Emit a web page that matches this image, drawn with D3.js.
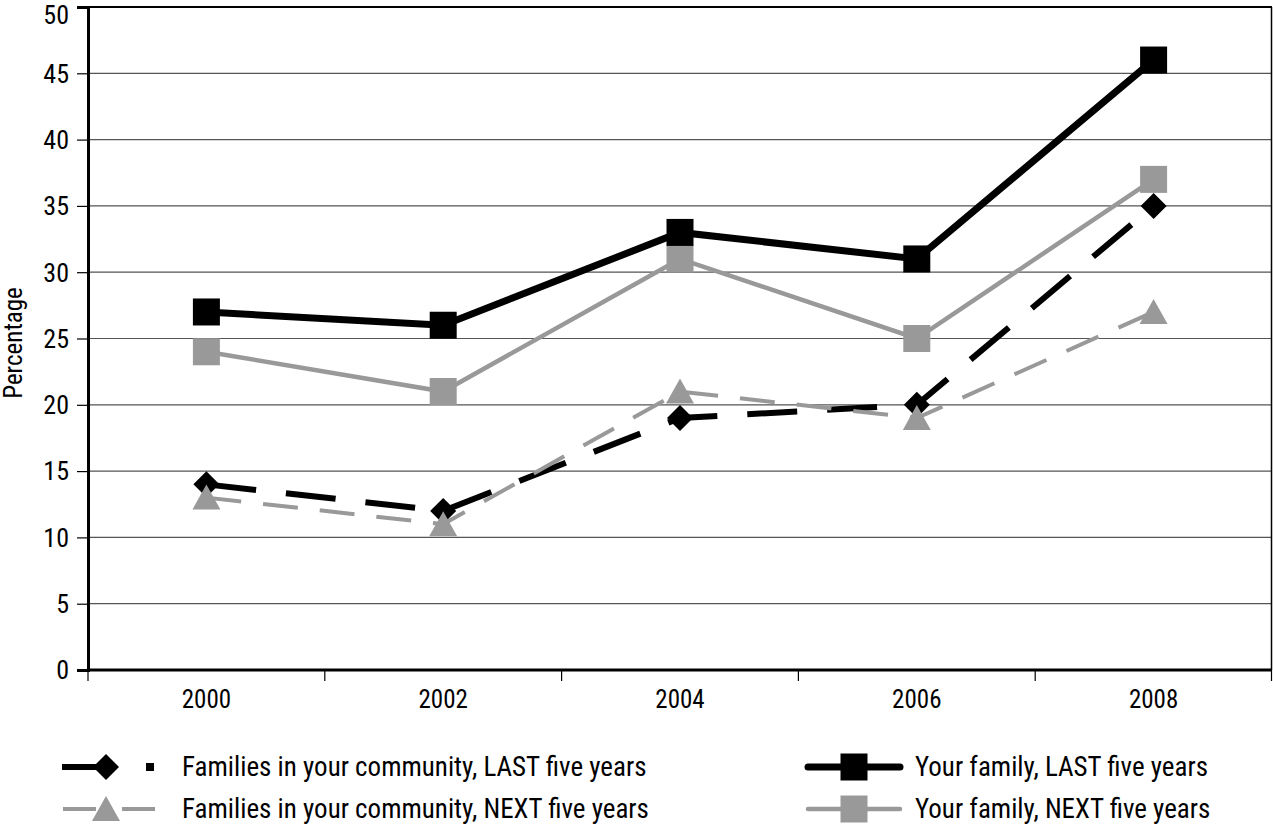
<!DOCTYPE html>
<html><head><meta charset="utf-8">
<script src="https://cdn.jsdelivr.net/npm/d3@7"></script>
<style>
body{margin:0;background:#fff;}
svg text{font-family:"Liberation Sans Narrow","Roboto Condensed","Liberation Sans",sans-serif;fill:#000;}
</style></head><body>
<svg id="c" width="1273" height="829"></svg>
<script>
const years = ["2000","2002","2004","2006","2008"];
const communityLast = [14,12,19,20,35];
const communityNext = [13,11,21,19,27];
const familyLast = [27,26,33,31,46];
const familyNext = [24,21,31,25,37];
const yTicks = [0,5,10,15,20,25,30,35,40,45,50];
const seriesNames = ["Families in your community, LAST five years","Families in your community, NEXT five years","Your family, LAST five years","Your family, NEXT five years"];

const svg = d3.select("#c");
const m = {l:88, r:1272, t:7, b:670};
const x = d3.scaleBand().domain(years).range([m.l,m.r]);
const y = d3.scaleLinear().domain([0,50]).range([m.b,m.t]);

// gridlines
svg.append("g").selectAll("line").data(yTicks.filter(d=>d>0)).join("line")
  .attr("x1",m.l).attr("x2",m.r).attr("y1",d=>y(d)).attr("y2",d=>y(d))
  .attr("stroke",d=>d===50?"#000":"#555").attr("stroke-width",d=>d===50?2:1.2);
// right border
svg.append("line").attr("x1",m.r-0.5).attr("x2",m.r-0.5).attr("y1",m.t).attr("y2",m.b).attr("stroke","#000").attr("stroke-width",1.5);

// y axis
const ya = svg.append("g").attr("transform",`translate(${m.l},0)`)
  .call(d3.axisLeft(y).tickValues(yTicks).tickSize(11).tickPadding(8));
ya.select(".domain").attr("stroke","#000").attr("stroke-width",3);
ya.selectAll(".tick line").attr("stroke","#000").attr("stroke-width",1.2);
ya.selectAll("text").style("font-size","26px").attr("dy",d=>d===50?"0.62em":"0.34em");

// x axis
const xa = svg.append("g").attr("transform",`translate(0,${m.b})`)
  .call(d3.axisBottom(x).tickSize(0).tickPadding(20));
xa.select(".domain").attr("stroke","#000").attr("stroke-width",3).attr("d",`M${m.l},0H${m.r}`);
xa.selectAll("text").style("font-size","25px");
const bounds = years.map(d=>x(d)).concat([m.r-0.5]);
xa.append("g").selectAll("line").data(bounds).join("line")
  .attr("x1",d=>d).attr("x2",d=>d).attr("y1",0).attr("y2",11).attr("stroke","#000").attr("stroke-width",1.2);

// y title
svg.append("text").attr("transform",`translate(22,343) rotate(-90)`).attr("text-anchor","middle")
  .style("font-size","25px").text("Percentage");

const cx = d=>x(d)+x.bandwidth()/2;
const styles = [
  {data:communityLast, color:"#000", w:6, dash:"50,30", sym:"diamond"},
  {data:communityNext, color:"#999", w:4, dash:"35,22", sym:"triangle"},
  {data:familyNext, color:"#999", w:4.5, dash:null, sym:"square"},
  {data:familyLast, color:"#000", w:7, dash:null, sym:"square"},
];
const line = d3.line().x((d,i)=>cx(years[i])).y(d=>y(d));
function marker(g, s, px, py){
  if(s.sym==="square"){
    g.append("rect").attr("x",px-13.5).attr("y",py-13.5).attr("width",27).attr("height",27).attr("fill",s.color);
  } else if(s.sym==="diamond"){
    g.append("path").attr("d",`M${px},${py-13}L${px+13},${py}L${px},${py+13}L${px-13},${py}Z`).attr("fill",s.color);
  } else {
    g.append("path").attr("d",`M${px},${py-13}L${px+14},${py+12}L${px-14},${py+12}Z`).attr("fill",s.color);
  }
}
styles.forEach(s=>{
  const g = svg.append("g");
  g.append("path").attr("d",line(s.data)).attr("fill","none").attr("stroke",s.color)
    .attr("stroke-width",s.w).attr("stroke-dasharray",s.dash);
  s.data.forEach((v,i)=>marker(g,s,cx(years[i]),y(v)));
});

// legend
const leg = [
  {s:styles[0], name:seriesNames[0], lx:62, ly:767, tx:182},
  {s:styles[1], name:seriesNames[1], lx:62, ly:809, tx:182},
  {s:styles[3], name:seriesNames[2], lx:808, ly:767, tx:915},
  {s:styles[2], name:seriesNames[3], lx:808, ly:809, tx:915},
];
leg.forEach((l,i)=>{
  const g = svg.append("g");
  if(i===0){
    g.append("line").attr("x1",62).attr("x2",100).attr("y1",l.ly).attr("y2",l.ly).attr("stroke","#000").attr("stroke-width",6);
    g.append("rect").attr("x",146).attr("y",l.ly-4).attr("width",8).attr("height",8).attr("fill","#000");
  } else if(i===1){
    g.append("line").attr("x1",63).attr("x2",155).attr("y1",l.ly).attr("y2",l.ly).attr("stroke","#999").attr("stroke-width",4).attr("stroke-dasharray","33,26");
  } else {
    g.append("line").attr("x1",l.lx).attr("x2",l.lx+92).attr("y1",l.ly).attr("y2",l.ly).attr("stroke",l.s.color)
      .attr("stroke-width",l.s.w).attr("stroke-linecap","round");
  }
  marker(g,l.s,l.lx+(i<2?44:46),l.ly);
  g.append("text").attr("x",l.tx).attr("y",l.ly).attr("dy","0.35em").style("font-size","27px").text(l.name);
});
</script></body></html>
